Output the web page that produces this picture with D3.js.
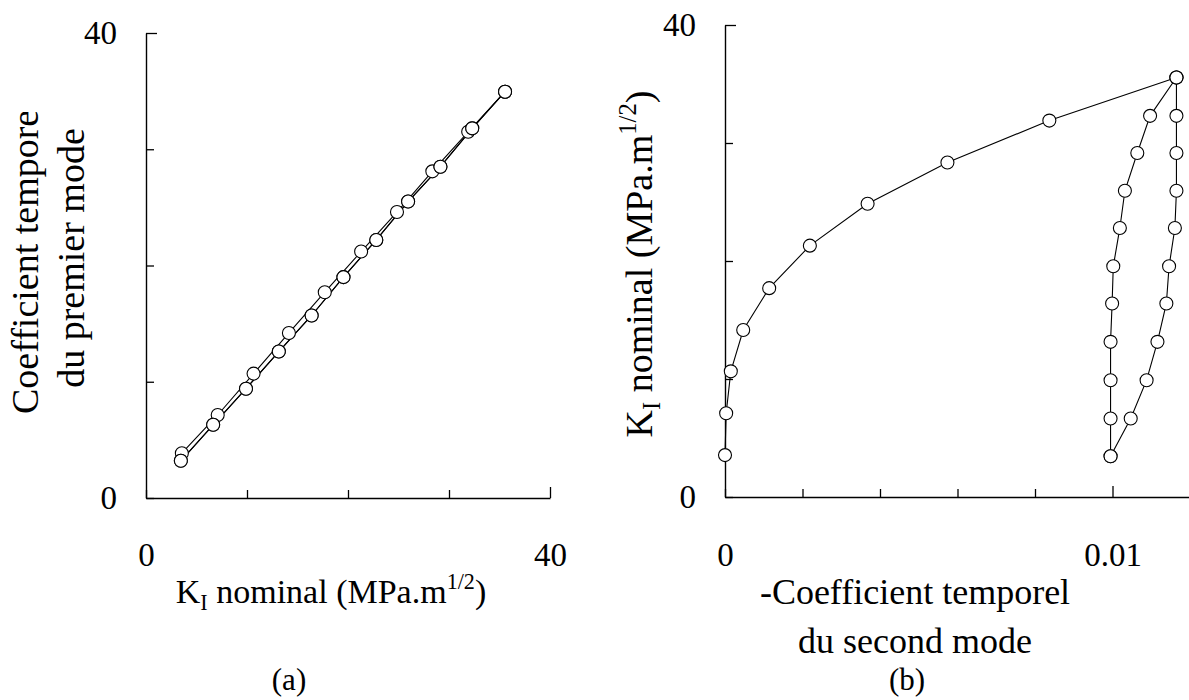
<!DOCTYPE html>
<html><head><meta charset="utf-8">
<script src="https://cdn.jsdelivr.net/npm/d3@7"></script>
<style>
body{margin:0;background:#fff}
svg{display:block}
text{font-family:"Liberation Serif","Times New Roman",serif;fill:#000}
</style>
</head><body><svg id="c" width="1189" height="700"></svg>
<script>
// ---- Data ----
// K_I nominal levels (MPa.m^1/2)
const kiLoad   = [3.55, 7.1, 10.65, 14.15, 17.7, 21.3, 24.85, 28.35, 31.9, 35.55];
const kiUnload = [35.55, 32.3, 29.15, 25.95, 22.8, 19.55, 16.4, 13.15, 9.9, 6.65, 3.45];
const kiReload = [3.45, 6.65, 9.9, 13.15, 16.4, 19.55, 22.8, 25.95, 29.15, 32.3, 35.55];
// (a) first-mode temporal coefficient
const mode1Load   = [3.85, 7.14, 10.7, 14.2, 17.7, 21.2, 24.6, 28.1, 31.5, 34.95];
const mode1Unload = [34.95, 31.8, 28.5, 25.5, 22.2, 19.0, 15.7, 12.6, 9.4, 6.3, 3.2];
const mode1Reload = [3.2, 6.3, 9.4, 12.6, 15.7, 19.0, 22.2, 25.5, 28.5, 31.8, 34.95];
// (b) minus second-mode temporal coefficient
const mode2Load   = [0, 0.00003, 0.00015, 0.00047, 0.00114, 0.00219, 0.00368, 0.00574, 0.00837, 0.01165];
const mode2Unload = [0.01165, 0.01165, 0.01165, 0.01165, 0.01161, 0.01146, 0.01139, 0.01116, 0.01088, 0.01047, 0.00995];
const mode2Reload = [0.00995, 0.00995, 0.00995, 0.00995, 0.00999, 0.01002, 0.01019, 0.01032, 0.01064, 0.01097, 0.01165];
// ticks
const kTicks = [0, 10, 20, 30, 40];
const kTickLabels = [0, 40];
const m2Ticks = [0, 0.002, 0.004, 0.006, 0.008, 0.01, 0.012];
const m2TickLabels = ["0", "0.01"];

const svg = d3.select("#c");

// ---- Scales ----
const xA = d3.scaleLinear().domain([0, 40]).range([146, 550]);
const yA = d3.scaleLinear().domain([0, 40]).range([498, 33]);
const xB = d3.scaleLinear().domain([0, 0.012]).range([725, 1190]);
const yB = d3.scaleLinear().domain([0, 40]).range([497, 25]);

function styleAxis(g, fs) {
  g.select(".domain").attr("stroke", "#000").attr("stroke-width", 1.4);
  g.selectAll(".tick line").attr("stroke", "#000").attr("stroke-width", 1.3);
  g.selectAll(".tick text").attr("font-size", fs).attr("font-family", '"Liberation Serif",serif').attr("fill", "#000");
}

// Panel (a) axes
const gAx = svg.append("g").attr("transform", `translate(0,${yA(0)})`)
  .call(d3.axisBottom(xA).tickValues(kTicks).tickSize(-8).tickSizeOuter(0).tickPadding(45)
    .tickFormat(d => kTickLabels.includes(d) ? String(d) : ""));
styleAxis(gAx, 33);
gAx.selectAll(".tick line").attr("y2", d => d === 40 ? -11 : -8);

const gAy = svg.append("g").attr("transform", `translate(${xA(0)},0)`)
  .call(d3.axisLeft(yA).tickValues(kTicks).tickSize(-8).tickSizeOuter(0).tickPadding(29)
    .tickFormat(d => kTickLabels.includes(d) ? String(d) : ""));
styleAxis(gAy, 33);
gAy.selectAll(".tick line").attr("x2", d => d === 40 ? 11 : 8);

// Panel (b) axes
const gBx = svg.append("g").attr("transform", `translate(0,${yB(0)})`)
  .call(d3.axisBottom(xB).tickValues(m2Ticks).tickSize(-8).tickSizeOuter(0).tickPadding(46)
    .tickFormat(d => d === 0 ? m2TickLabels[0] : (Math.abs(d - 0.01) < 1e-9 ? m2TickLabels[1] : "")));
styleAxis(gBx, 33);
gBx.selectAll(".tick line").attr("y2", d => Math.abs(d - 0.01) < 1e-9 ? -11 : -8);

const gBy = svg.append("g").attr("transform", `translate(${xB(0)},0)`)
  .call(d3.axisLeft(yB).tickValues(kTicks).tickSize(-8).tickSizeOuter(0).tickPadding(29)
    .tickFormat(d => kTickLabels.includes(d) ? String(d) : ""));
styleAxis(gBy, 33);
gBy.selectAll(".tick line").attr("x2", d => d === 40 ? 11 : 8);

// ---- Series ----
function drawSeries(xs, ys, xScale, yScale) {
  const pts = xs.map((x, i) => [x, ys[i]]);
  svg.append("path").datum(pts)
    .attr("fill", "none").attr("stroke", "#000").attr("stroke-width", 1.1)
    .attr("d", d3.line().x(d => xScale(d[0])).y(d => yScale(d[1])));
  return pts;
}
const seriesA = [
  drawSeries(kiLoad, mode1Load, xA, yA),
  drawSeries(kiUnload, mode1Unload, xA, yA),
  drawSeries(kiReload, mode1Reload, xA, yA)
];
const seriesB = [
  drawSeries(mode2Load, kiLoad, xB, yB),
  drawSeries(mode2Unload, kiUnload, xB, yB),
  drawSeries(mode2Reload, kiReload, xB, yB)
];
function drawMarkers(pts, xScale, yScale) {
  svg.append("g").selectAll("circle").data(pts).join("circle")
    .attr("cx", d => xScale(d[0])).attr("cy", d => yScale(d[1])).attr("r", 6.5)
    .attr("fill", "#fff").attr("stroke", "#000").attr("stroke-width", 1.1);
}
seriesA.forEach(p => drawMarkers(p, xA, yA));
seriesB.forEach(p => drawMarkers(p, xB, yB));

// ---- Titles ----
// (a) y title, first line clipped at top as in the reference
svg.append("defs").append("clipPath").attr("id", "clipA")
  .append("rect").attr("x", 0).attr("y", 112).attr("width", 140).attr("height", 600);
svg.append("g").attr("clip-path", "url(#clipA)")
  .append("text").attr("transform", "translate(38,414) rotate(-90)")
  .attr("font-size", 38).attr("text-anchor", "start").text("Coefficient temporel");
svg.append("text").attr("transform", "translate(84,258) rotate(-90)")
  .attr("font-size", 38).attr("text-anchor", "middle").text("du premier mode");

function kiTitle(sel, fs) {
  sel.append("tspan").text("K");
  sel.append("tspan").attr("font-size", fs * 0.65).attr("dy", fs * 0.22).text("I");
  sel.append("tspan").attr("dy", -fs * 0.22).text(" nominal (MPa.m");
  sel.append("tspan").attr("font-size", fs * 0.65).attr("dy", -fs * 0.42).text("1/2");
  sel.append("tspan").attr("dy", fs * 0.42).text(")");
}
// (a) x title
kiTitle(svg.append("text").attr("x", 331).attr("y", 603).attr("font-size", 34).attr("text-anchor", "middle"), 34);
// (b) y title
kiTitle(svg.append("text").attr("transform", "translate(652,264) rotate(-90)").attr("font-size", 38).attr("text-anchor", "middle"), 38);
// (b) x title
svg.append("text").attr("x", 915).attr("y", 604).attr("font-size", 36).attr("text-anchor", "middle").text("-Coefficient temporel");
svg.append("text").attr("x", 915).attr("y", 653).attr("font-size", 36).attr("text-anchor", "middle").text("du second mode");
// panel letters
svg.append("text").attr("x", 289).attr("y", 690).attr("font-size", 31).attr("text-anchor", "middle").text("(a)");
svg.append("text").attr("x", 907).attr("y", 690).attr("font-size", 31).attr("text-anchor", "middle").text("(b)");
</script>
</body></html>
